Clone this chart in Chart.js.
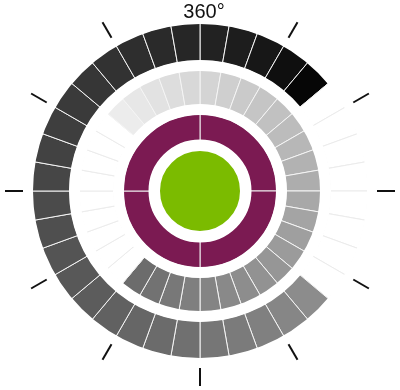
<!DOCTYPE html>
<html>
<head>
<meta charset="utf-8">
<script src="https://cdn.jsdelivr.net/npm/chart.js@4/dist/chart.umd.min.js"></script>
<style>
  html, body { margin: 0; padding: 0; background: #fff; }
  #wrap { width: 400px; height: 390px; }
</style>
</head>
<body>
<div id="wrap"><canvas id="ringChart"></canvas></div>
<script>
// 36 slices of 10 degrees, clockwise from the top
const segments = ['0°','10°','20°','30°','40°','50°','60°','70°','80°','90°','100°','110°',
  '120°','130°','140°','150°','160°','170°','180°','190°','200°','210°','220°','230°',
  '240°','250°','260°','270°','280°','290°','300°','310°','320°','330°','340°','350°'];
const spanDeg = [10,10,10,10,10,10,10,10,10,10,10,10,10,10,10,10,10,10,
  10,10,10,10,10,10,10,10,10,10,10,10,10,10,10,10,10,10];

// grey level of each slice (null = empty slice)
const outerShade = [34, 29, 23, 15, 6, null, null, null, null, null, null, null,
  null, 140, 134, 128, 123, 118, 112, 107, 102, 97, 92, 88,
  84, 79, 75, 70, 66, 62, 58, 54, 50, 46, 42, 38];
const innerShade = [212, 207, 202, 197, 193, 188, 183, 178, 173, 168, 164, 159,
  155, 150, 146, 141, 137, 132, 127, 120, 114, 108, null, null,
  null, null, null, null, null, null, null, 236, 231, 226, 221, 216];

const quarterSpan = [90, 90, 90, 90];
const hubSpan = [360];

// axis ticks round the rings
const tickAngles = [0, 30, 60, 90, 120, 150, 180, 210, 240, 270, 300, 330];
const tickLabels = ['360°', '', '', '', '', '', '', '', '', '', '', ''];

function greyFill(v) {
    return v == null ? '#ffffff' : `rgb(${v}, ${v}, ${v})`;
}
function greyEdge(v) {
    return v == null ? '#ebebeb' : '#f4f4f4';
}

function spacer(weight) {
    return {
        data: [1],
        weight: weight,
        backgroundColor: '#ffffff',
        borderColor: '#ffffff',
        borderWidth: 2,
        order: -1
    };
}

// Plugin drawing the angle ticks and the top label
const angleTicks = {
    id: 'angleTicks',
    afterDatasetsDraw(chart) {
        const ctx = chart.ctx;
        const area = chart.chartArea;
        const cx = (area.left + area.right) / 2;
        const cy = (area.top + area.bottom) / 2;
        const r = chart.getDatasetMeta(1).controller.outerRadius;

        ctx.save();
        tickAngles.forEach((deg, i) => {
            const a = deg * Math.PI / 180;
            const sx = Math.sin(a), sy = -Math.cos(a);
            if (tickLabels[i]) {
                const num = tickLabels[i].replace('°', '');
                ctx.font = '20px "Liberation Sans", Arial, sans-serif';
                ctx.fillStyle = '#111';
                ctx.textAlign = 'left';
                ctx.textBaseline = 'alphabetic';
                const w = ctx.measureText(num).width;
                ctx.fillText(tickLabels[i], cx + sx * (r + 6) - w / 2, cy + sy * (r + 5.5));
            } else {
                ctx.beginPath();
                ctx.moveTo(cx + sx * (r + 9), cy + sy * (r + 9));
                ctx.lineTo(cx + sx * (r + 27), cy + sy * (r + 27));
                ctx.strokeStyle = '#111';
                ctx.lineWidth = 2;
                ctx.stroke();
            }
        });
        ctx.restore();
    }
};

const ringChart = new Chart(document.getElementById('ringChart'), {
    type: 'doughnut',
    data: {
        labels: segments,
        datasets: [
            spacer(3),
            {
                data: spanDeg,
                weight: 38,
                backgroundColor: outerShade.map(greyFill),
                borderColor: outerShade.map(greyEdge),
                borderWidth: 1
            },
            spacer(9),
            {
                data: spanDeg,
                weight: 35,
                backgroundColor: innerShade.map(greyFill),
                borderColor: innerShade.map(greyEdge),
                borderWidth: 1
            },
            spacer(9),
            {
                data: quarterSpan,
                weight: 26.5,
                backgroundColor: '#7b1a52',
                borderColor: '#f0f0f0',
                borderWidth: 1
            },
            spacer(9.5),
            {
                data: hubSpan,
                weight: 41,
                backgroundColor: '#7bbb00',
                borderWidth: 0
            }
        ]
    },
    options: {
        responsive: true,
        maintainAspectRatio: false,
        animation: false,
        events: [],
        cutout: 0,
        radius: 171,
        layout: {
            padding: { top: 11, bottom: 19, left: 20, right: 20 }
        },
        plugins: {
            legend: { display: false },
            tooltip: { enabled: false },
            title: { display: false }
        }
    },
    plugins: [angleTicks]
});
</script>
</body>
</html>
